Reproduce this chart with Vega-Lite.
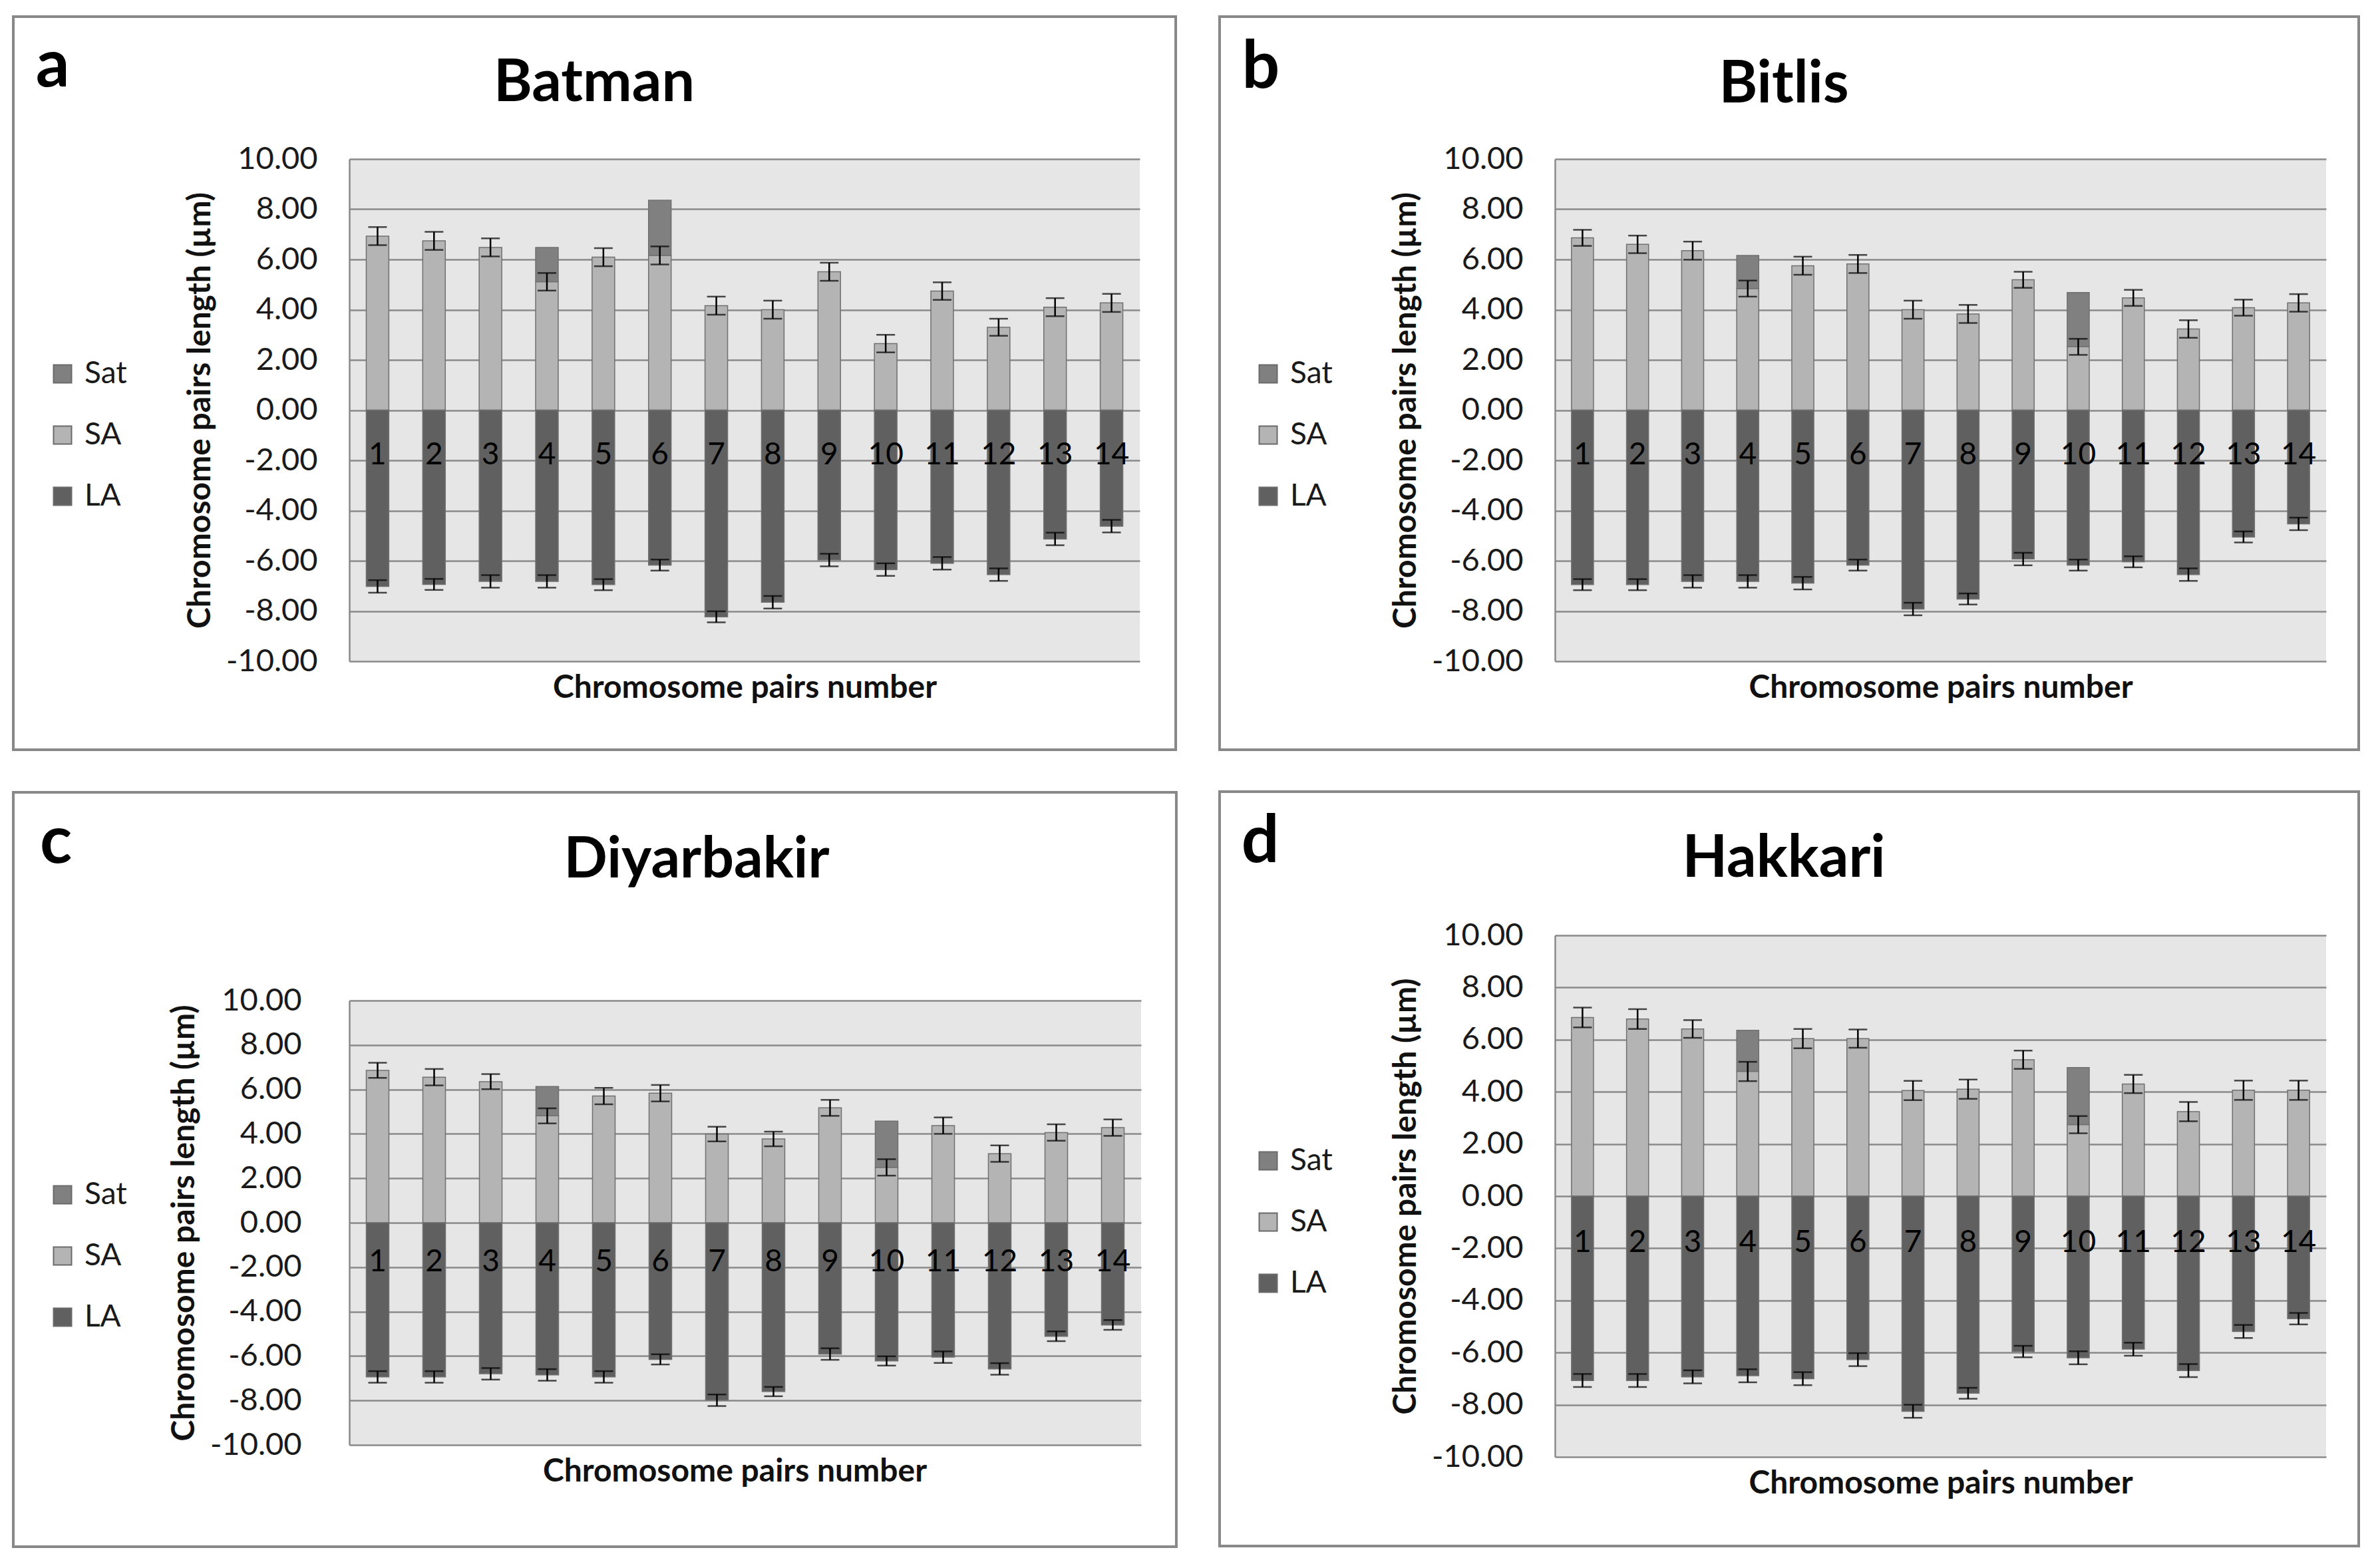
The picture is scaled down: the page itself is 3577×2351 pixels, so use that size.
{
  "$schema": "https://vega.github.io/schema/vega-lite/v6.json",
  "padding": {"left": 17, "top": 23, "right": 10, "bottom": 10},
  "background": "#ffffff",
  "config": {
    "font": "Lato",
    "view": {"fill": "#e6e6e6", "stroke": null}
  },
  "datasets": {
    "batman": [
      {"chr": 1, "part": "SA", "len": 6.93, "err": 0.36}, {"chr": 2, "part": "SA", "len": 6.74, "err": 0.36},
      {"chr": 3, "part": "SA", "len": 6.48, "err": 0.36}, {"chr": 4, "part": "SA", "len": 5.11, "err": 0.35},
      {"chr": 5, "part": "SA", "len": 6.09, "err": 0.36}, {"chr": 6, "part": "SA", "len": 6.16, "err": 0.36},
      {"chr": 7, "part": "SA", "len": 4.16, "err": 0.36}, {"chr": 8, "part": "SA", "len": 4.0, "err": 0.36},
      {"chr": 9, "part": "SA", "len": 5.51, "err": 0.36}, {"chr": 10, "part": "SA", "len": 2.65, "err": 0.35},
      {"chr": 11, "part": "SA", "len": 4.74, "err": 0.35}, {"chr": 12, "part": "SA", "len": 3.3, "err": 0.34},
      {"chr": 13, "part": "SA", "len": 4.1, "err": 0.36}, {"chr": 14, "part": "SA", "len": 4.27, "err": 0.36},
      {"chr": 4, "part": "Sat", "len": 1.37, "err": null}, {"chr": 6, "part": "Sat", "len": 2.2, "err": null},
      {"chr": 1, "part": "LA", "len": -7.02, "err": 0.25}, {"chr": 2, "part": "LA", "len": -6.94, "err": 0.22},
      {"chr": 3, "part": "LA", "len": -6.82, "err": 0.25}, {"chr": 4, "part": "LA", "len": -6.82, "err": 0.25},
      {"chr": 5, "part": "LA", "len": -6.95, "err": 0.22}, {"chr": 6, "part": "LA", "len": -6.17, "err": 0.22},
      {"chr": 7, "part": "LA", "len": -8.23, "err": 0.22}, {"chr": 8, "part": "LA", "len": -7.65, "err": 0.25},
      {"chr": 9, "part": "LA", "len": -5.97, "err": 0.25}, {"chr": 10, "part": "LA", "len": -6.35, "err": 0.25},
      {"chr": 11, "part": "LA", "len": -6.1, "err": 0.25}, {"chr": 12, "part": "LA", "len": -6.55, "err": 0.25},
      {"chr": 13, "part": "LA", "len": -5.13, "err": 0.25}, {"chr": 14, "part": "LA", "len": -4.62, "err": 0.25}
    ],
    "bitlis": [
      {"chr": 1, "part": "SA", "len": 6.86, "err": 0.32}, {"chr": 2, "part": "SA", "len": 6.6, "err": 0.35},
      {"chr": 3, "part": "SA", "len": 6.35, "err": 0.36}, {"chr": 4, "part": "SA", "len": 4.84, "err": 0.32},
      {"chr": 5, "part": "SA", "len": 5.75, "err": 0.36}, {"chr": 6, "part": "SA", "len": 5.82, "err": 0.36},
      {"chr": 7, "part": "SA", "len": 4.0, "err": 0.36}, {"chr": 8, "part": "SA", "len": 3.83, "err": 0.36},
      {"chr": 9, "part": "SA", "len": 5.19, "err": 0.32}, {"chr": 10, "part": "SA", "len": 2.52, "err": 0.32},
      {"chr": 11, "part": "SA", "len": 4.47, "err": 0.32}, {"chr": 12, "part": "SA", "len": 3.23, "err": 0.35},
      {"chr": 13, "part": "SA", "len": 4.08, "err": 0.32}, {"chr": 14, "part": "SA", "len": 4.27, "err": 0.35},
      {"chr": 4, "part": "Sat", "len": 1.32, "err": null}, {"chr": 10, "part": "Sat", "len": 2.16, "err": null},
      {"chr": 1, "part": "LA", "len": -6.95, "err": 0.22}, {"chr": 2, "part": "LA", "len": -6.95, "err": 0.22},
      {"chr": 3, "part": "LA", "len": -6.82, "err": 0.25}, {"chr": 4, "part": "LA", "len": -6.82, "err": 0.25},
      {"chr": 5, "part": "LA", "len": -6.89, "err": 0.25}, {"chr": 6, "part": "LA", "len": -6.17, "err": 0.22},
      {"chr": 7, "part": "LA", "len": -7.92, "err": 0.25}, {"chr": 8, "part": "LA", "len": -7.52, "err": 0.22},
      {"chr": 9, "part": "LA", "len": -5.93, "err": 0.25}, {"chr": 10, "part": "LA", "len": -6.17, "err": 0.22},
      {"chr": 11, "part": "LA", "len": -6.04, "err": 0.22}, {"chr": 12, "part": "LA", "len": -6.55, "err": 0.25},
      {"chr": 13, "part": "LA", "len": -5.05, "err": 0.22}, {"chr": 14, "part": "LA", "len": -4.53, "err": 0.25}
    ],
    "diyarbakir": [
      {"chr": 1, "part": "SA", "len": 6.86, "err": 0.34}, {"chr": 2, "part": "SA", "len": 6.55, "err": 0.37},
      {"chr": 3, "part": "SA", "len": 6.35, "err": 0.34}, {"chr": 4, "part": "SA", "len": 4.81, "err": 0.34},
      {"chr": 5, "part": "SA", "len": 5.7, "err": 0.37}, {"chr": 6, "part": "SA", "len": 5.83, "err": 0.37},
      {"chr": 7, "part": "SA", "len": 3.99, "err": 0.33}, {"chr": 8, "part": "SA", "len": 3.77, "err": 0.33},
      {"chr": 9, "part": "SA", "len": 5.17, "err": 0.36}, {"chr": 10, "part": "SA", "len": 2.49, "err": 0.37},
      {"chr": 11, "part": "SA", "len": 4.37, "err": 0.37}, {"chr": 12, "part": "SA", "len": 3.11, "err": 0.37},
      {"chr": 13, "part": "SA", "len": 4.06, "err": 0.37}, {"chr": 14, "part": "SA", "len": 4.28, "err": 0.37},
      {"chr": 4, "part": "Sat", "len": 1.32, "err": null}, {"chr": 10, "part": "Sat", "len": 2.08, "err": null},
      {"chr": 1, "part": "LA", "len": -6.94, "err": 0.26}, {"chr": 2, "part": "LA", "len": -6.94, "err": 0.26},
      {"chr": 3, "part": "LA", "len": -6.8, "err": 0.26}, {"chr": 4, "part": "LA", "len": -6.85, "err": 0.26},
      {"chr": 5, "part": "LA", "len": -6.94, "err": 0.26}, {"chr": 6, "part": "LA", "len": -6.15, "err": 0.23},
      {"chr": 7, "part": "LA", "len": -7.99, "err": 0.26}, {"chr": 8, "part": "LA", "len": -7.6, "err": 0.21},
      {"chr": 9, "part": "LA", "len": -5.91, "err": 0.26}, {"chr": 10, "part": "LA", "len": -6.22, "err": 0.21},
      {"chr": 11, "part": "LA", "len": -6.05, "err": 0.26}, {"chr": 12, "part": "LA", "len": -6.58, "err": 0.26},
      {"chr": 13, "part": "LA", "len": -5.11, "err": 0.22}, {"chr": 14, "part": "LA", "len": -4.6, "err": 0.22}
    ],
    "hakkari": [
      {"chr": 1, "part": "SA", "len": 6.85, "err": 0.38}, {"chr": 2, "part": "SA", "len": 6.79, "err": 0.38},
      {"chr": 3, "part": "SA", "len": 6.41, "err": 0.34}, {"chr": 4, "part": "SA", "len": 4.78, "err": 0.37},
      {"chr": 5, "part": "SA", "len": 6.04, "err": 0.37}, {"chr": 6, "part": "SA", "len": 6.04, "err": 0.35},
      {"chr": 7, "part": "SA", "len": 4.05, "err": 0.37}, {"chr": 8, "part": "SA", "len": 4.1, "err": 0.37},
      {"chr": 9, "part": "SA", "len": 5.23, "err": 0.35}, {"chr": 10, "part": "SA", "len": 2.74, "err": 0.33},
      {"chr": 11, "part": "SA", "len": 4.3, "err": 0.35}, {"chr": 12, "part": "SA", "len": 3.24, "err": 0.37},
      {"chr": 13, "part": "SA", "len": 4.06, "err": 0.37}, {"chr": 14, "part": "SA", "len": 4.06, "err": 0.37},
      {"chr": 4, "part": "Sat", "len": 1.58, "err": null}, {"chr": 10, "part": "Sat", "len": 2.19, "err": null},
      {"chr": 1, "part": "LA", "len": -7.07, "err": 0.25}, {"chr": 2, "part": "LA", "len": -7.07, "err": 0.25},
      {"chr": 3, "part": "LA", "len": -6.93, "err": 0.25}, {"chr": 4, "part": "LA", "len": -6.89, "err": 0.25},
      {"chr": 5, "part": "LA", "len": -7.0, "err": 0.25}, {"chr": 6, "part": "LA", "len": -6.27, "err": 0.25},
      {"chr": 7, "part": "LA", "len": -8.25, "err": 0.25}, {"chr": 8, "part": "LA", "len": -7.56, "err": 0.21},
      {"chr": 9, "part": "LA", "len": -5.96, "err": 0.22}, {"chr": 10, "part": "LA", "len": -6.2, "err": 0.25},
      {"chr": 11, "part": "LA", "len": -5.87, "err": 0.25}, {"chr": 12, "part": "LA", "len": -6.69, "err": 0.25},
      {"chr": 13, "part": "LA", "len": -5.19, "err": 0.25}, {"chr": 14, "part": "LA", "len": -4.7, "err": 0.22}
    ]
  },
  "resolve": {"scale": {"color": "independent"}, "legend": {"color": "independent"}},
  "spacing": 60,
  "hconcat": [
    {
      "concat": [
        {
          "width": 1188, "height": 755,
          "resolve": {"scale": {"x": "independent", "y": "independent"}},
          "layer": [
            {
              "data": {"name": "batman"},
              "layer": [
                {"mark": {"type": "bar", "stroke": "#707070", "strokeWidth": 1.5},
                 "encoding": {
                   "x": {"field": "chr", "type": "ordinal", "title": "Chromosome pairs number", "scale": {"paddingInner": 0.6, "paddingOuter": 0.3},
                         "axis": {"orient": "bottom", "labels": false, "ticks": false, "domain": false, "grid": false, "titleFontSize": 48, "titleFontWeight": "bold", "titlePadding": 16, "titleColor": "#111111"}},
                   "y": {"field": "len", "type": "quantitative", "stack": "zero", "title": "Chromosome pairs length (µm)", "scale": {"domain": [-10, 10], "nice": false},
                         "axis": {"orient": "left", "values": [-10, -8, -6, -4, -2, 0, 2, 4, 6, 8, 10], "labelExpr": "datum.value < 0 ? '-' + format(-datum.value, '.2f') : format(datum.value, '.2f')",
                                  "grid": true, "gridColor": "#8a8a8a", "gridWidth": 2.5, "ticks": false, "domain": true, "domainColor": "#8a8a8a", "domainWidth": 2.5,
                                  "labelFontSize": 47, "labelPadding": 48, "labelColor": "#1a1a1a", "titleFontSize": 48, "titleFontWeight": "bold", "titleX": -224, "titleBaseline": "middle", "titleColor": "#111111"}},
                   "color": {"field": "part", "type": "nominal", "scale": {"domain": ["Sat", "SA", "LA"], "range": ["#808080", "#b4b4b4", "#606060"]},
                             "legend": {"orient": "none", "legendX": -454, "legendY": 300, "title": null, "direction": "vertical", "symbolType": "square", "symbolSize": 729,
                                        "symbolStrokeColor": "#6a6a6a", "symbolStrokeWidth": 2, "labelFontSize": 46, "labelColor": "#1a1a1a", "rowPadding": 46, "labelOffset": 10}},
                   "order": {"field": "part", "sort": "ascending"}
                 }},
                {"transform": [{"filter": "datum.part != 'Sat'"}],
                 "mark": {"type": "errorbar", "ticks": {"size": 28, "thickness": 2.5, "color": "#000000"}, "rule": {"strokeWidth": 2.5, "color": "#000000"}},
                 "encoding": {"x": {"field": "chr", "type": "ordinal", "title": "Chromosome pairs number"}, "y": {"field": "len", "type": "quantitative", "title": "Chromosome pairs length (µm)"}, "yError": {"field": "err"}}},
                {"transform": [{"filter": "datum.part == 'LA'"}],
                 "mark": {"type": "text", "fontSize": 46, "color": "#000000", "baseline": "middle", "align": "center"},
                 "encoding": {"x": {"field": "chr", "type": "ordinal", "title": "Chromosome pairs number"}, "y": {"datum": -1.78, "type": "quantitative", "title": "Chromosome pairs length (µm)"}, "text": {"field": "chr"}}}
              ]
            },
            {
              "data": {"values": [{"title": "Batman", "letter": "a"}]},
              "layer": [
                {"mark": {"type": "rect", "fillOpacity": 0, "stroke": "#888888", "strokeWidth": 4, "clip": false},
                 "encoding": {
                   "x": {"datum": -0.4251, "type": "quantitative", "scale": {"domain": [0, 1], "nice": false, "zero": false}, "axis": null},
                   "x2": {"datum": 1.0455},
                   "y": {"datum": -0.1762, "type": "quantitative", "scale": {"domain": [0, 1], "nice": false, "zero": false}, "axis": null},
                   "y2": {"datum": 1.2834}}},
                {"mark": {"type": "text", "fontWeight": "bold", "fontSize": 88, "align": "center", "baseline": "alphabetic", "color": "#000000"},
                 "encoding": {"x": {"datum": 0.3098, "type": "quantitative"}, "y": {"datum": 1.1152, "type": "quantitative"}, "text": {"field": "title"}}},
                {"mark": {"type": "text", "fontWeight": "bold", "fontSize": 100, "align": "center", "baseline": "alphabetic", "color": "#000000"},
                 "encoding": {"x": {"datum": -0.3754, "type": "quantitative"}, "y": {"datum": 1.1444, "type": "quantitative"}, "text": {"field": "letter"}}}
              ]
            }
          ]
        },
        {
          "width": 1190, "height": 668,
          "resolve": {"scale": {"x": "independent", "y": "independent"}},
          "layer": [
            {
              "data": {"name": "diyarbakir"},
              "layer": [
                {"mark": {"type": "bar", "stroke": "#707070", "strokeWidth": 1.5},
                 "encoding": {
                   "x": {"field": "chr", "type": "ordinal", "title": "Chromosome pairs number", "scale": {"paddingInner": 0.6, "paddingOuter": 0.3},
                         "axis": {"orient": "bottom", "labels": false, "ticks": false, "domain": false, "grid": false, "titleFontSize": 48, "titleFontWeight": "bold", "titlePadding": 16, "titleColor": "#111111", "titleX": 579, "titleAlign": "center"}},
                   "y": {"field": "len", "type": "quantitative", "stack": "zero", "title": "Chromosome pairs length (µm)", "scale": {"domain": [-10, 10], "nice": false},
                         "axis": {"orient": "left", "values": [-10, -8, -6, -4, -2, 0, 2, 4, 6, 8, 10], "labelExpr": "datum.value < 0 ? '-' + format(-datum.value, '.2f') : format(datum.value, '.2f')",
                                  "grid": true, "gridColor": "#8a8a8a", "gridWidth": 2.5, "ticks": false, "domain": true, "domainColor": "#8a8a8a", "domainWidth": 2.5,
                                  "labelFontSize": 47, "labelPadding": 72, "labelColor": "#1a1a1a", "titleFontSize": 48, "titleFontWeight": "bold", "titleX": -248, "titleBaseline": "middle", "titleColor": "#111111"}},
                   "color": {"field": "part", "type": "nominal", "scale": {"domain": ["Sat", "SA", "LA"], "range": ["#808080", "#b4b4b4", "#606060"]},
                             "legend": {"orient": "none", "legendX": -454, "legendY": 269, "title": null, "direction": "vertical", "symbolType": "square", "symbolSize": 729,
                                        "symbolStrokeColor": "#6a6a6a", "symbolStrokeWidth": 2, "labelFontSize": 46, "labelColor": "#1a1a1a", "rowPadding": 46, "labelOffset": 10}},
                   "order": {"field": "part", "sort": "ascending"}
                 }},
                {"transform": [{"filter": "datum.part != 'Sat'"}],
                 "mark": {"type": "errorbar", "ticks": {"size": 28, "thickness": 2.5, "color": "#000000"}, "rule": {"strokeWidth": 2.5, "color": "#000000"}},
                 "encoding": {"x": {"field": "chr", "type": "ordinal", "title": "Chromosome pairs number"}, "y": {"field": "len", "type": "quantitative", "title": "Chromosome pairs length (µm)"}, "yError": {"field": "err"}}},
                {"transform": [{"filter": "datum.part == 'LA'"}],
                 "mark": {"type": "text", "fontSize": 46, "color": "#000000", "baseline": "middle", "align": "center"},
                 "encoding": {"x": {"field": "chr", "type": "ordinal", "title": "Chromosome pairs number"}, "y": {"datum": -1.78, "type": "quantitative", "title": "Chromosome pairs length (µm)"}, "text": {"field": "chr"}}}
              ]
            },
            {
              "data": {"values": [{"title": "Diyarbakir", "letter": "c"}]},
              "layer": [
                {"mark": {"type": "rect", "fillOpacity": 0, "stroke": "#888888", "strokeWidth": 4, "clip": false},
                 "encoding": {
                   "x": {"datum": -0.4244, "type": "quantitative", "scale": {"domain": [0, 1], "nice": false, "zero": false}, "axis": null},
                   "x2": {"datum": 1.0445},
                   "y": {"datum": -0.229, "type": "quantitative", "scale": {"domain": [0, 1], "nice": false, "zero": false}, "axis": null},
                   "y2": {"datum": 1.4686}}},
                {"mark": {"type": "text", "fontWeight": "bold", "fontSize": 86, "align": "center", "baseline": "alphabetic", "color": "#000000"},
                 "encoding": {"x": {"datum": 0.4387, "type": "quantitative"}, "y": {"datum": 1.277, "type": "quantitative"}, "text": {"field": "title"}}},
                {"mark": {"type": "text", "fontWeight": "bold", "fontSize": 100, "align": "center", "baseline": "alphabetic", "color": "#000000"},
                 "encoding": {"x": {"datum": -0.3706, "type": "quantitative"}, "y": {"datum": 1.3099, "type": "quantitative"}, "text": {"field": "letter"}}}
              ]
            }
          ]
        }
      ],
      "columns": 1,
      "spacing": 58,
      "resolve": {"scale": {"color": "independent"}, "legend": {"color": "independent"}}
    },
    {
      "concat": [
        {
          "width": 1159, "height": 755,
          "resolve": {"scale": {"x": "independent", "y": "independent"}},
          "layer": [
            {
              "data": {"name": "bitlis"},
              "layer": [
                {"mark": {"type": "bar", "stroke": "#707070", "strokeWidth": 1.5},
                 "encoding": {
                   "x": {"field": "chr", "type": "ordinal", "title": "Chromosome pairs number", "scale": {"paddingInner": 0.6, "paddingOuter": 0.3},
                         "axis": {"orient": "bottom", "labels": false, "ticks": false, "domain": false, "grid": false, "titleFontSize": 48, "titleFontWeight": "bold", "titlePadding": 16, "titleColor": "#111111"}},
                   "y": {"field": "len", "type": "quantitative", "stack": "zero", "title": "Chromosome pairs length (µm)", "scale": {"domain": [-10, 10], "nice": false},
                         "axis": {"orient": "left", "values": [-10, -8, -6, -4, -2, 0, 2, 4, 6, 8, 10], "labelExpr": "datum.value < 0 ? '-' + format(-datum.value, '.2f') : format(datum.value, '.2f')",
                                  "grid": true, "gridColor": "#8a8a8a", "gridWidth": 2.5, "ticks": false, "domain": true, "domainColor": "#8a8a8a", "domainWidth": 2.5,
                                  "labelFontSize": 47, "labelPadding": 48, "labelColor": "#1a1a1a", "titleFontSize": 48, "titleFontWeight": "bold", "titleX": -224, "titleBaseline": "middle", "titleColor": "#111111"}},
                   "color": {"field": "part", "type": "nominal", "scale": {"domain": ["Sat", "SA", "LA"], "range": ["#808080", "#b4b4b4", "#606060"]},
                             "legend": {"orient": "none", "legendX": -454, "legendY": 300, "title": null, "direction": "vertical", "symbolType": "square", "symbolSize": 729,
                                        "symbolStrokeColor": "#6a6a6a", "symbolStrokeWidth": 2, "labelFontSize": 46, "labelColor": "#1a1a1a", "rowPadding": 46, "labelOffset": 10}},
                   "order": {"field": "part", "sort": "ascending"}
                 }},
                {"transform": [{"filter": "datum.part != 'Sat'"}],
                 "mark": {"type": "errorbar", "ticks": {"size": 28, "thickness": 2.5, "color": "#000000"}, "rule": {"strokeWidth": 2.5, "color": "#000000"}},
                 "encoding": {"x": {"field": "chr", "type": "ordinal", "title": "Chromosome pairs number"}, "y": {"field": "len", "type": "quantitative", "title": "Chromosome pairs length (µm)"}, "yError": {"field": "err"}}},
                {"transform": [{"filter": "datum.part == 'LA'"}],
                 "mark": {"type": "text", "fontSize": 46, "color": "#000000", "baseline": "middle", "align": "center"},
                 "encoding": {"x": {"field": "chr", "type": "ordinal", "title": "Chromosome pairs number"}, "y": {"datum": -1.78, "type": "quantitative", "title": "Chromosome pairs length (µm)"}, "text": {"field": "chr"}}}
              ]
            },
            {
              "data": {"values": [{"title": "Bitlis", "letter": "b"}]},
              "layer": [
                {"mark": {"type": "rect", "fillOpacity": 0, "stroke": "#888888", "strokeWidth": 4, "clip": false},
                 "encoding": {
                   "x": {"datum": -0.4349, "type": "quantitative", "scale": {"domain": [0, 1], "nice": false, "zero": false}, "axis": null},
                   "x2": {"datum": 1.0423},
                   "y": {"datum": -0.1762, "type": "quantitative", "scale": {"domain": [0, 1], "nice": false, "zero": false}, "axis": null},
                   "y2": {"datum": 1.2834}}},
                {"mark": {"type": "text", "fontWeight": "bold", "fontSize": 88, "align": "center", "baseline": "alphabetic", "color": "#000000"},
                 "encoding": {"x": {"datum": 0.2968, "type": "quantitative"}, "y": {"datum": 1.1126, "type": "quantitative"}, "text": {"field": "title"}}},
                {"mark": {"type": "text", "fontWeight": "bold", "fontSize": 100, "align": "center", "baseline": "alphabetic", "color": "#000000"},
                 "encoding": {"x": {"datum": -0.3814, "type": "quantitative"}, "y": {"datum": 1.1417, "type": "quantitative"}, "text": {"field": "letter"}}}
              ]
            }
          ]
        },
        {
          "width": 1159, "height": 784,
          "resolve": {"scale": {"x": "independent", "y": "independent"}},
          "layer": [
            {
              "data": {"name": "hakkari"},
              "layer": [
                {"mark": {"type": "bar", "stroke": "#707070", "strokeWidth": 1.5},
                 "encoding": {
                   "x": {"field": "chr", "type": "ordinal", "title": "Chromosome pairs number", "scale": {"paddingInner": 0.6, "paddingOuter": 0.3},
                         "axis": {"orient": "bottom", "labels": false, "ticks": false, "domain": false, "grid": false, "titleFontSize": 48, "titleFontWeight": "bold", "titlePadding": 16, "titleColor": "#111111"}},
                   "y": {"field": "len", "type": "quantitative", "stack": "zero", "title": "Chromosome pairs length (µm)", "scale": {"domain": [-10, 10], "nice": false},
                         "axis": {"orient": "left", "values": [-10, -8, -6, -4, -2, 0, 2, 4, 6, 8, 10], "labelExpr": "datum.value < 0 ? '-' + format(-datum.value, '.2f') : format(datum.value, '.2f')",
                                  "grid": true, "gridColor": "#8a8a8a", "gridWidth": 2.5, "ticks": false, "domain": true, "domainColor": "#8a8a8a", "domainWidth": 2.5,
                                  "labelFontSize": 47, "labelPadding": 48, "labelColor": "#1a1a1a", "titleFontSize": 48, "titleFontWeight": "bold", "titleX": -224, "titleBaseline": "middle", "titleColor": "#111111"}},
                   "color": {"field": "part", "type": "nominal", "scale": {"domain": ["Sat", "SA", "LA"], "range": ["#808080", "#b4b4b4", "#606060"]},
                             "legend": {"orient": "none", "legendX": -454, "legendY": 316, "title": null, "direction": "vertical", "symbolType": "square", "symbolSize": 729,
                                        "symbolStrokeColor": "#6a6a6a", "symbolStrokeWidth": 2, "labelFontSize": 46, "labelColor": "#1a1a1a", "rowPadding": 46, "labelOffset": 10}},
                   "order": {"field": "part", "sort": "ascending"}
                 }},
                {"transform": [{"filter": "datum.part != 'Sat'"}],
                 "mark": {"type": "errorbar", "ticks": {"size": 28, "thickness": 2.5, "color": "#000000"}, "rule": {"strokeWidth": 2.5, "color": "#000000"}},
                 "encoding": {"x": {"field": "chr", "type": "ordinal", "title": "Chromosome pairs number"}, "y": {"field": "len", "type": "quantitative", "title": "Chromosome pairs length (µm)"}, "yError": {"field": "err"}}},
                {"transform": [{"filter": "datum.part == 'LA'"}],
                 "mark": {"type": "text", "fontSize": 46, "color": "#000000", "baseline": "middle", "align": "center"},
                 "encoding": {"x": {"field": "chr", "type": "ordinal", "title": "Chromosome pairs number"}, "y": {"datum": -1.78, "type": "quantitative", "title": "Chromosome pairs length (µm)"}, "text": {"field": "chr"}}}
              ]
            },
            {
              "data": {"values": [{"title": "Hakkari", "letter": "d"}]},
              "layer": [
                {"mark": {"type": "rect", "fillOpacity": 0, "stroke": "#888888", "strokeWidth": 4, "clip": false},
                 "encoding": {
                   "x": {"datum": -0.4349, "type": "quantitative", "scale": {"domain": [0, 1], "nice": false, "zero": false}, "axis": null},
                   "x2": {"datum": 1.0423},
                   "y": {"datum": -0.1709, "type": "quantitative", "scale": {"domain": [0, 1], "nice": false, "zero": false}, "axis": null},
                   "y2": {"datum": 1.2755}}},
                {"mark": {"type": "text", "fontWeight": "bold", "fontSize": 88, "align": "center", "baseline": "alphabetic", "color": "#000000"},
                 "encoding": {"x": {"datum": 0.2968, "type": "quantitative"}, "y": {"datum": 1.1122, "type": "quantitative"}, "text": {"field": "title"}}},
                {"mark": {"type": "text", "fontWeight": "bold", "fontSize": 100, "align": "center", "baseline": "alphabetic", "color": "#000000"},
                 "encoding": {"x": {"datum": -0.3822, "type": "quantitative"}, "y": {"datum": 1.1403, "type": "quantitative"}, "text": {"field": "letter"}}}
              ]
            }
          ]
        }
      ],
      "columns": 1,
      "spacing": 58,
      "resolve": {"scale": {"color": "independent"}, "legend": {"color": "independent"}}
    }
  ]
}
